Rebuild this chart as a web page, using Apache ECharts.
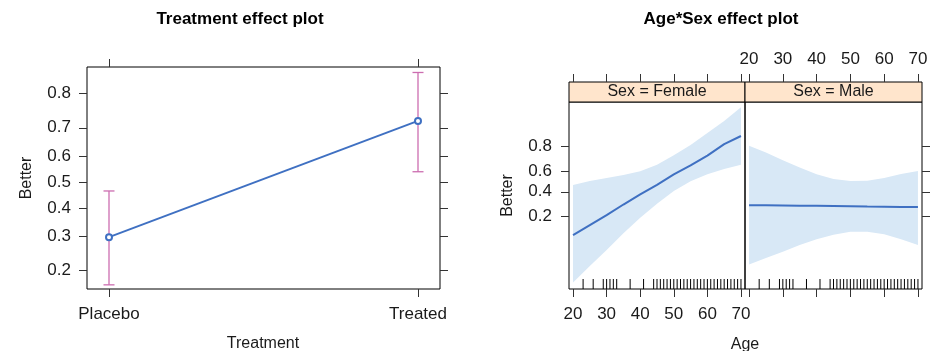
<!DOCTYPE html>
<html>
<head>
<meta charset="utf-8">
<script src="https://cdn.jsdelivr.net/npm/echarts@6/dist/echarts.min.js"></script>
<style>
html,body{margin:0;padding:0;background:#fff;}
#chart{width:942px;height:351px;}
</style>
</head>
<body>
<div id="chart"></div>
<script>
// ---------- data ----------
const treatCats = ['Placebo', 'Treated'];
const treatFit = [0.297, 0.722];
const treatLower = [0.167, 0.540];
const treatUpper = [0.465, 0.847];
const treatProbTicks = [0.2, 0.3, 0.4, 0.5, 0.6, 0.7, 0.8];

const ageGrid = [20, 25, 30, 35, 40, 45, 50, 55, 60, 65, 70];
const femaleFit   = [0.107, 0.151, 0.209, 0.287, 0.375, 0.468, 0.570, 0.655, 0.737, 0.815, 0.859];
const femaleUpper = [0.467, 0.505, 0.535, 0.565, 0.600, 0.660, 0.740, 0.810, 0.873, 0.917, 0.950];
const femaleLower = [0.018, 0.034, 0.062, 0.114, 0.193, 0.293, 0.407, 0.503, 0.573, 0.622, 0.660];
const maleFit     = [0.282, 0.281, 0.280, 0.278, 0.277, 0.275, 0.273, 0.271, 0.270, 0.268, 0.267];
const maleUpper   = [0.806, 0.760, 0.700, 0.635, 0.573, 0.525, 0.505, 0.507, 0.535, 0.575, 0.604];
const maleLower   = [0.036, 0.046, 0.058, 0.075, 0.092, 0.108, 0.120, 0.120, 0.110, 0.092, 0.075];
const ageProbTicks = [0.2, 0.4, 0.6, 0.8];
const ageTicks = [20, 30, 40, 50, 60, 70];
const rugAges = [23, 26, 29, 30, 31, 32, 33, 37, 41, 44, 45, 46, 47, 48, 49, 50, 51, 52, 53, 54, 55, 56, 57, 58,
                 59, 60, 61, 62, 63, 64, 65, 66, 67, 68, 69, 70];

// ---------- helpers ----------
const logit = p => Math.log(p / (1 - p));
const invlogit = v => 1 / (1 + Math.exp(-v));
const FONT = "'Liberation Sans', Arial, sans-serif";
const LINE = '#3f70c2';
const BAND = '#d8e8f6';
const ERR = '#cc6db0';
const TXT = '#1a1a1a';
const TICKC = '#333';
const FS = 17;

const probFmt = v => invlogit(v).toFixed(1);

function tick(vals) {
  return { show: true, length: 8, inside: false, lineStyle: { color: TICKC }, customValues: vals };
}
function label(vals, margin, fmt) {
  const o = { show: true, color: TXT, fontSize: FS, fontFamily: FONT, margin: margin, customValues: vals };
  if (fmt) o.formatter = fmt;
  return o;
}
function axis(extra) {
  return Object.assign({
    type: 'value',
    axisLine: { show: false, onZero: false },
    splitLine: { show: false },
    axisLabel: { show: false },
  }, extra);
}

// left plot limits (logit scale)
const L_MIN = -1.672, L_MAX = 1.797;
// right plot limits
const R_MIN = -4.26, R_MAX = 3.156;
const A_MIN = 18.8, A_MAX = 71.2;
const STRIP_H = 20;

const treatLogitTicks = treatProbTicks.map(logit);
const ageLogitTicks = ageProbTicks.map(logit);
const treatPos = treatCats.map((c, i) => i);

const xAxis = [
  axis({ gridIndex: 0, position: 'bottom', min: -0.0712, max: 1.0712, axisTick: tick(treatPos),
    axisLabel: label(treatPos, 17, v => treatCats[Math.round(v)]) }),
  axis({ gridIndex: 0, position: 'top', min: -0.0712, max: 1.0712, axisTick: tick(treatPos) }),
  axis({ gridIndex: 1, position: 'bottom', min: A_MIN, max: A_MAX, axisTick: tick(ageTicks),
    axisLabel: label(ageTicks, 17) }),
  axis({ gridIndex: 1, position: 'top', offset: STRIP_H, min: A_MIN, max: A_MAX, axisTick: tick(ageTicks) }),
  axis({ gridIndex: 2, position: 'bottom', min: A_MIN, max: A_MAX, axisTick: tick(ageTicks) }),
  axis({ gridIndex: 2, position: 'top', offset: STRIP_H, min: A_MIN, max: A_MAX, axisTick: tick(ageTicks),
    axisLabel: label(ageTicks, 14) }),
];

const nameStyle = { color: TXT, fontSize: 16, fontFamily: FONT };
const yAxis = [
  axis({ gridIndex: 0, position: 'left', min: L_MIN, max: L_MAX,
    name: 'Better', nameLocation: 'middle', nameGap: 52, nameRotate: 90, nameTextStyle: nameStyle,
    axisTick: tick(treatLogitTicks), axisLabel: label(treatLogitTicks, 16, probFmt) }),
  axis({ gridIndex: 0, position: 'right', min: L_MIN, max: L_MAX, axisTick: tick(treatLogitTicks) }),
  axis({ gridIndex: 1, position: 'left', min: R_MIN, max: R_MAX,
    name: 'Better', nameLocation: 'middle', nameGap: 53, nameRotate: 90, nameTextStyle: nameStyle,
    axisTick: tick(ageLogitTicks), axisLabel: label(ageLogitTicks, 17, probFmt) }),
  axis({ gridIndex: 2, position: 'right', min: R_MIN, max: R_MAX, axisTick: tick(ageLogitTicks) }),
];

const gridStyle = { show: true, borderColor: '#000', borderWidth: 1, backgroundColor: 'transparent', containLabel: false };
const grid = [
  Object.assign({ left: 87, top: 67, width: 353, height: 222 }, gridStyle),
  Object.assign({ left: 569, top: 102, width: 176, height: 187 }, gridStyle),
  Object.assign({ left: 745, top: 102, width: 177, height: 187 }, gridStyle),
];

function bandSeries(xi, yi, lower, upper) {
  return {
    type: 'custom', xAxisIndex: xi, yAxisIndex: yi, silent: true, z: 1, clip: true,
    data: [[ageGrid[0], logit(lower[0])]],
    renderItem: (params, api) => {
      const pts = [];
      for (let i = 0; i < ageGrid.length; i++) pts.push(api.coord([ageGrid[i], logit(upper[i])]));
      for (let i = ageGrid.length - 1; i >= 0; i--) pts.push(api.coord([ageGrid[i], logit(lower[i])]));
      return { type: 'polygon', shape: { points: pts }, style: { fill: BAND } };
    }
  };
}

function fitSeries(xi, yi, fit) {
  return {
    type: 'line', xAxisIndex: xi, yAxisIndex: yi, silent: true, z: 3,
    data: ageGrid.map((a, i) => [a, logit(fit[i])]),
    showSymbol: false,
    lineStyle: { color: LINE, width: 2 }
  };
}

function rugSeries(xi, yi) {
  return {
    type: 'custom', xAxisIndex: xi, yAxisIndex: yi, silent: true, z: 4,
    data: rugAges.map(a => [a, R_MIN]),
    renderItem: (params, api) => {
      const p = api.coord([api.value(0), api.value(1)]);
      return { type: 'line', shape: { x1: p[0], y1: p[1], x2: p[0], y2: p[1] - 10 },
        style: { stroke: '#000', lineWidth: 1 } };
    }
  };
}

const series = [
  {
    type: 'custom', xAxisIndex: 0, yAxisIndex: 0, silent: true, z: 2,
    data: treatCats.map((c, i) => [i, logit(treatLower[i]), logit(treatUpper[i])]),
    renderItem: (params, api) => {
      const x = api.value(0);
      const lo = api.coord([x, api.value(1)]);
      const hi = api.coord([x, api.value(2)]);
      const w = 5.5;
      const st = { stroke: ERR, lineWidth: 1.3 };
      return { type: 'group', children: [
        { type: 'line', shape: { x1: lo[0], y1: lo[1], x2: hi[0], y2: hi[1] }, style: st },
        { type: 'line', shape: { x1: lo[0] - w, y1: lo[1], x2: lo[0] + w, y2: lo[1] }, style: st },
        { type: 'line', shape: { x1: hi[0] - w, y1: hi[1], x2: hi[0] + w, y2: hi[1] }, style: st },
      ] };
    }
  },
  {
    type: 'line', xAxisIndex: 0, yAxisIndex: 0, silent: true, z: 3,
    data: treatCats.map((c, i) => [i, logit(treatFit[i])]),
    symbol: 'emptyCircle', symbolSize: 6, showSymbol: true,
    lineStyle: { color: LINE, width: 2 },
    itemStyle: { color: LINE, borderColor: LINE, borderWidth: 2 }
  },
  bandSeries(2, 2, femaleLower, femaleUpper),
  fitSeries(2, 2, femaleFit),
  rugSeries(2, 2),
  bandSeries(4, 3, maleLower, maleUpper),
  fitSeries(4, 3, maleFit),
  rugSeries(4, 3),
];

const graphic = [
  { type: 'text', x: 240, y: 19, style: { text: 'Treatment effect plot', font: 'bold 17px ' + FONT,
      fill: '#000', textAlign: 'center', textVerticalAlign: 'middle' } },
  { type: 'text', x: 721, y: 19, style: { text: 'Age*Sex effect plot', font: 'bold 17px ' + FONT,
      fill: '#000', textAlign: 'center', textVerticalAlign: 'middle' } },
  { type: 'rect', shape: { x: 569, y: 82, width: 176, height: STRIP_H }, style: { fill: '#ffe5cc', stroke: '#000', lineWidth: 1 } },
  { type: 'rect', shape: { x: 745, y: 82, width: 177, height: STRIP_H }, style: { fill: '#ffe5cc', stroke: '#000', lineWidth: 1 } },
  { type: 'text', x: 657, y: 92, style: { text: 'Sex = Female', font: '16px ' + FONT, fill: TXT,
      textAlign: 'center', textVerticalAlign: 'middle' } },
  { type: 'text', x: 833.5, y: 92, style: { text: 'Sex = Male', font: '16px ' + FONT, fill: TXT,
      textAlign: 'center', textVerticalAlign: 'middle' } },
  { type: 'text', x: 263, y: 344, style: { text: 'Treatment', font: '16px ' + FONT, fill: TXT,
      textAlign: 'center', textVerticalAlign: 'middle' } },
  { type: 'text', x: 745, y: 345, style: { text: 'Age', font: '16px ' + FONT, fill: TXT,
      textAlign: 'center', textVerticalAlign: 'middle' } },
];

const chart = echarts.init(document.getElementById('chart'), null, { renderer: 'canvas' });
chart.setOption({
  animation: false,
  backgroundColor: '#fff',
  grid, xAxis, yAxis, series, graphic
});
</script>
</body>
</html>
